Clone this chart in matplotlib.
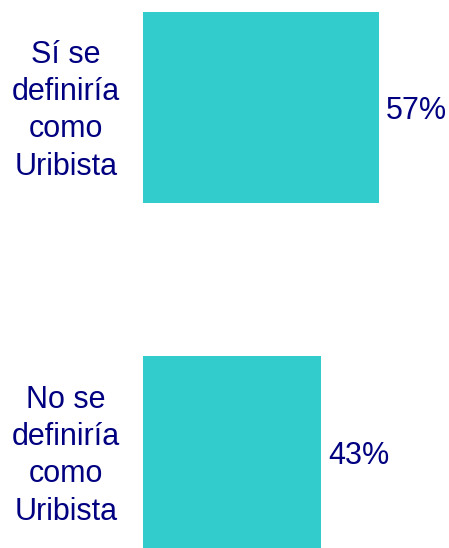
import matplotlib.pyplot as plt
from matplotlib.transforms import blended_transform_factory, offset_copy

categories = ["Sí se\ndefiniría\ncomo\nUribista", "No se\ndefiniría\ncomo\nUribista"]
values = [57, 43]
value_labels = ["57%", "43%"]

BAR_COLOR = "#33CCCC"
TEXT_COLOR = "#000080"
FONT = "Liberation Sans"

fig = plt.figure(figsize=(4.49, 5.48), dpi=100)
ax = fig.add_axes([143 / 449, 0, 290 / 449, 1])

positions = list(range(len(categories)))
ax.barh(positions, values, height=0.555, color=BAR_COLOR)

ax.set_xlim(0, 70)
ax.set_ylim(1.278, -0.311)
ax.axis("off")

trans = blended_transform_factory(fig.transFigure, ax.transData)
trans = offset_copy(trans, fig=fig, y=-2.5, units="points")
for pos, cat, val, lab in zip(positions, categories, values, value_labels):
    ax.text(66 / 449, pos, cat, transform=trans, ha="center", va="center",
            fontsize=22, color=TEXT_COLOR, family=FONT, linespacing=1.32)
    ax.annotate(lab, (val, pos), xytext=(5, -3), textcoords="offset points",
                ha="left", va="center", fontsize=22, color=TEXT_COLOR, family=FONT)

fig.savefig("out.png", dpi=100)
